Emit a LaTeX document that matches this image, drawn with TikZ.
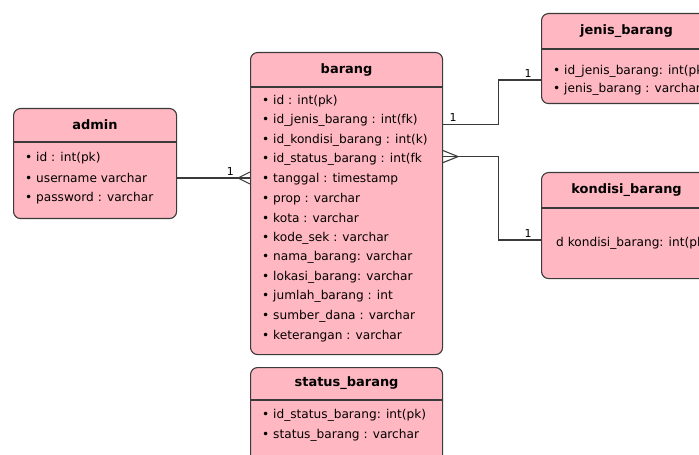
\documentclass[tikz,border=0pt]{standalone}
\usepackage{fontspec}
\setmainfont{DejaVu Sans}
\definecolor{tablepink}{HTML}{FFB7C1}
\definecolor{tableline}{HTML}{3A3A3A}
\tikzset{
  tablebox/.style={draw=tableline, fill=tablepink, line width=1.1bp,
    rounded corners=7bp, anchor=north west, inner sep=0pt},
  tablerule/.style={draw=tableline, line width=1.1bp},
  tabletitle/.style={inner sep=0pt, font=\bfseries\fontsize{13}{15}\selectfont},
  tablerow/.style={anchor=west, inner sep=0pt},
  link/.style={draw=tableline, line width=1.1bp},
  card/.style={inner sep=2pt, font=\fontsize{11}{12}\selectfont}
}

\begin{document}
\begin{tikzpicture}[x=1bp, y=-1bp, font=\fontsize{12.2}{14}\selectfont]
  \useasboundingbox (0,0) rectangle (699,455);
  \clip (0,0) rectangle (699,455);
  % Table boxes (the ones on the right and at the bottom run off the page).
  \node[tablebox, minimum width=163bp, minimum height=110bp] (admin) at (13,108) {};
  \node[tablebox, minimum width=192bp, minimum height=302bp] (barang) at (250,52) {};
  \node[tablebox, minimum width=192bp, minimum height=120bp] (status) at (250,367) {};
  \node[tablebox, minimum width=170bp, minimum height=90bp] (jenis) at (541,13) {};
  \node[tablebox, minimum width=170bp, minimum height=106bp] (kondisi) at (541,172) {};
  % Title bands.
  \foreach \t/\h/\name in {admin/34/admin, barang/35/barang, status/33/status\_barang,
      jenis/36/jenis\_barang, kondisi/36/kondisi\_barang} {
    \draw[tablerule] ([yshift=-\h bp]\t.north west) -- ([yshift=-\h bp]\t.north east);
    \node[tabletitle] (\t-title) at ([yshift=-0.5*\h bp]\t.north) {\name};
  }
  % Attribute rows.
  \foreach \row [count=\i] in {id : int(pk), username varchar, password : varchar}
    \node[tablerow] (admin-\i) at (25,{138+20*\i}) {• \row};
  \foreach \row [count=\i] in {id : int(pk), id\_jenis\_barang : int(fk),
      id\_kondisi\_barang : int(k), id\_status\_barang : int(fk,
      tanggal : timestamp, prop : varchar, kota : varchar, kode\_sek : varchar,
      nama\_barang: varchar, lokasi\_barang: varchar, jumlah\_barang : int,
      sumber\_dana : varchar, keterangan : varchar}
    \node[tablerow] (barang-\i) at (262,{81.2+19.6*\i}) {• \row};
  \foreach \row [count=\i] in {id\_status\_barang: int(pk), status\_barang : varchar}
    \node[tablerow] (status-\i) at (262,{395+20*\i}) {• \row};
  \foreach \row [count=\i] in {id\_jenis\_barang: int(pk), jenis\_barang : varchar}
    \node[tablerow] (jenis-\i) at (553,{53+18*\i}) {• \row};
  \node[tablerow] (kondisi-1) at (556,243) {d kondisi\_barang: int(pk)};
  % Relations.
  \draw[link] (admin.east |- admin-2) -- node[card, pos=0.73, above] {1} (barang.west |- admin-2);
  \draw[link] (barang.west |- admin-2) ++(-12,0) -- ++(12,-6) ++(-12,6) -- ++(12,6);
  \coordinate (barang-jenis) at ([yshift=-4bp]barang.east |- barang-2);
  \coordinate (barang-kondisi) at ([yshift=3bp]barang.east |- barang-4);
  \draw[link] (barang-jenis) -- node[card, pos=0.18, above] {1} ++(55,0)
    |- node[card, pos=0.85, above] {1} ([yshift=-9bp]jenis.west |- jenis-1);
  \draw[link] (barang-kondisi) -- ++(55,0)
    |- node[card, pos=0.85, above] {1} ([yshift=3bp]kondisi.west |- kondisi-1);
  \draw[link] (barang-kondisi) ++(15,0) -- ++(-15,-6) ++(15,6) -- ++(-15,6);
\end{tikzpicture}
\end{document}
